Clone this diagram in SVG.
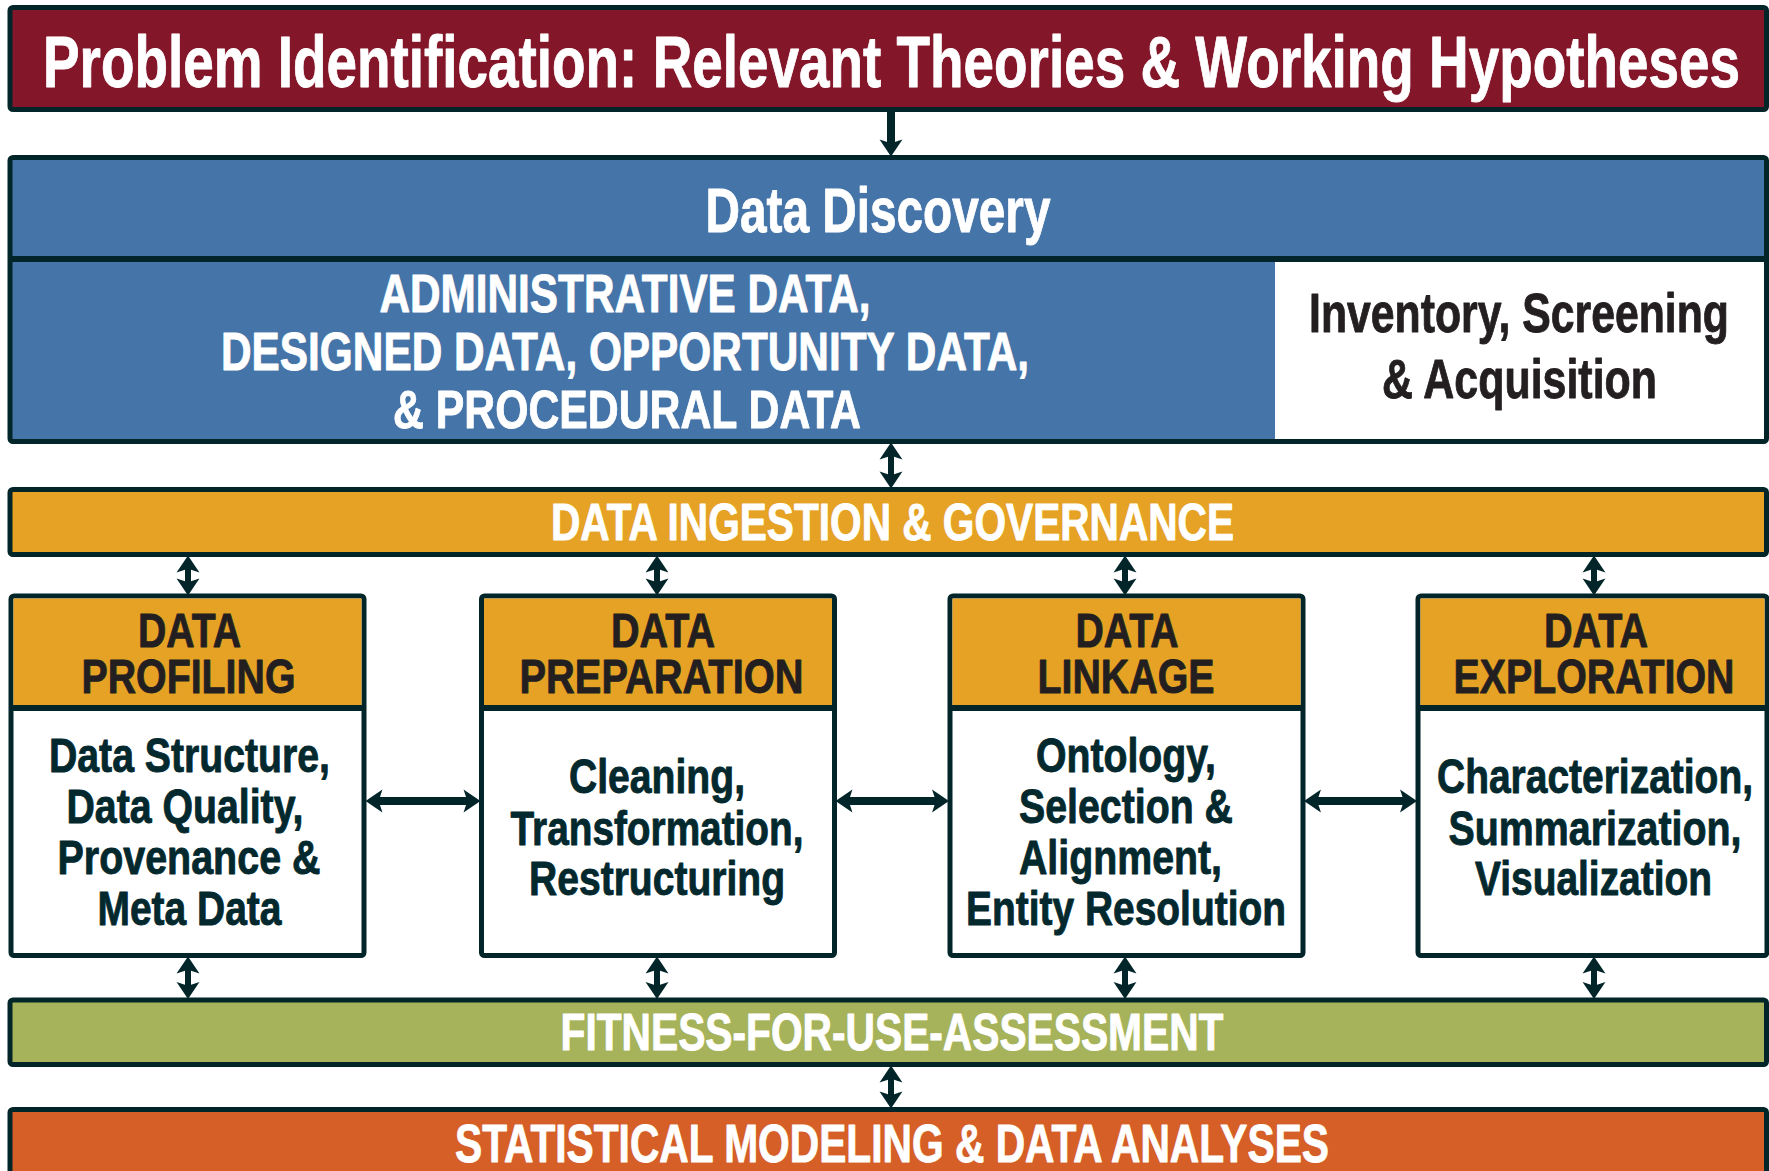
<svg xmlns="http://www.w3.org/2000/svg" width="1769" height="1171" viewBox="0 0 1769 1171">
  <style>
    .frame { stroke: #022529; stroke-width: 5; }
    .t { font-family: "Liberation Sans", Arial, sans-serif; font-weight: bold; text-anchor: middle; stroke-width: 0.9; stroke-linejoin: round; }
    .w { fill: #ffffff; stroke: #ffffff; }
    .k { fill: #231F20; stroke: #231F20; }
    .d { fill: #03282D; stroke: #03282D; }
    .conn { stroke: #022529; fill: none; }
  </style>
  <defs>
    <marker id="head" markerUnits="userSpaceOnUse" markerWidth="20" markerHeight="24" viewBox="0 -11 16 22" refX="5" refY="0" orient="auto-start-reverse">
      <path d="M0,-10.5 L15.5,0 L0,10.5 L3.5,0 Z" fill="#022529"/>
    </marker>
  </defs>

  <rect width="1769" height="1171" fill="#ffffff"/>

  <!-- problem identification banner -->
  <g id="problem-identification">
    <rect class="frame" x="10" y="7.5" width="1756.5" height="102" rx="3" fill="#84162A"/>
    <text class="t w" x="891.5" y="87" font-size="72" textLength="1697" lengthAdjust="spacingAndGlyphs">Problem Identification: Relevant Theories &amp; Working Hypotheses</text>
  </g>

  <!-- data discovery block -->
  <g id="data-discovery">
    <rect x="10" y="157.5" width="1756.5" height="284" fill="#4575A8"/>
    <rect x="1275" y="259" width="1491.5" height="182.5" fill="#ffffff"/>
    <line x1="10" y1="259" x2="1766.5" y2="259" stroke="#022529" stroke-width="6"/>
    <rect class="frame" x="10" y="157.5" width="1756.5" height="284" rx="3" fill="none"/>
    <text class="t w" x="878" y="232" font-size="63" textLength="345" lengthAdjust="spacingAndGlyphs">Data Discovery</text>
    <text class="t w" x="625" y="312" font-size="54" textLength="491" lengthAdjust="spacingAndGlyphs">ADMINISTRATIVE DATA,</text>
    <text class="t w" x="625" y="370" font-size="54" textLength="808" lengthAdjust="spacingAndGlyphs">DESIGNED DATA, OPPORTUNITY DATA,</text>
    <text class="t w" x="627" y="428" font-size="54" textLength="468" lengthAdjust="spacingAndGlyphs">&amp; PROCEDURAL DATA</text>
    <text class="t k" x="1519" y="332" font-size="56" textLength="420" lengthAdjust="spacingAndGlyphs">Inventory, Screening</text>
    <text class="t k" x="1519.5" y="398" font-size="56" textLength="275" lengthAdjust="spacingAndGlyphs">&amp; Acquisition</text>
  </g>

  <!-- ingestion band -->
  <g id="data-ingestion">
    <rect class="frame" x="10" y="489.5" width="1756.5" height="65" rx="3" fill="#E5A224"/>
    <text class="t w" x="892.5" y="540" font-size="51" textLength="683" lengthAdjust="spacingAndGlyphs">DATA INGESTION &amp; GOVERNANCE</text>
  </g>

  <!-- four processing stages -->
  <g id="data-profiling">
    <rect class="frame" x="11" y="596" width="353" height="359.5" rx="3" fill="#ffffff"/>
    <rect x="13.5" y="598.5" width="348" height="109.5" fill="#E5A224"/>
    <line x1="11" y1="708" x2="364" y2="708" stroke="#022529" stroke-width="6"/>
    <text class="t k" x="189.5" y="647" font-size="49" textLength="103" lengthAdjust="spacingAndGlyphs">DATA</text>
    <text class="t k" x="188.5" y="693" font-size="49" textLength="214" lengthAdjust="spacingAndGlyphs">PROFILING</text>
    <text class="t d" x="189.5" y="772" font-size="49" textLength="281" lengthAdjust="spacingAndGlyphs">Data Structure,</text>
    <text class="t d" x="185" y="823" font-size="49" textLength="237" lengthAdjust="spacingAndGlyphs">Data Quality,</text>
    <text class="t d" x="189" y="874" font-size="49" textLength="263" lengthAdjust="spacingAndGlyphs">Provenance &amp;</text>
    <text class="t d" x="189.5" y="925" font-size="49" textLength="184" lengthAdjust="spacingAndGlyphs">Meta Data</text>
  </g>

  <g id="data-preparation">
    <rect class="frame" x="481.5" y="596" width="353" height="359.5" rx="3" fill="#ffffff"/>
    <rect x="484" y="598.5" width="348" height="109.5" fill="#E5A224"/>
    <line x1="481.5" y1="708" x2="834.5" y2="708" stroke="#022529" stroke-width="6"/>
    <text class="t k" x="663" y="647" font-size="49" textLength="104" lengthAdjust="spacingAndGlyphs">DATA</text>
    <text class="t k" x="661.5" y="693" font-size="49" textLength="284" lengthAdjust="spacingAndGlyphs">PREPARATION</text>
    <text class="t d" x="657" y="793" font-size="49" textLength="176" lengthAdjust="spacingAndGlyphs">Cleaning,</text>
    <text class="t d" x="657" y="845" font-size="49" textLength="293" lengthAdjust="spacingAndGlyphs">Transformation,</text>
    <text class="t d" x="657" y="895" font-size="49" textLength="256" lengthAdjust="spacingAndGlyphs">Restructuring</text>
  </g>

  <g id="data-linkage">
    <rect class="frame" x="950" y="596" width="353" height="359.5" rx="3" fill="#ffffff"/>
    <rect x="952.5" y="598.5" width="348" height="109.5" fill="#E5A224"/>
    <line x1="950" y1="708" x2="1303" y2="708" stroke="#022529" stroke-width="6"/>
    <text class="t k" x="1127" y="647" font-size="49" textLength="103" lengthAdjust="spacingAndGlyphs">DATA</text>
    <text class="t k" x="1126" y="693" font-size="49" textLength="177" lengthAdjust="spacingAndGlyphs">LINKAGE</text>
    <text class="t d" x="1126" y="772" font-size="49" textLength="180" lengthAdjust="spacingAndGlyphs">Ontology,</text>
    <text class="t d" x="1126" y="823" font-size="49" textLength="214" lengthAdjust="spacingAndGlyphs">Selection &amp;</text>
    <text class="t d" x="1120.5" y="874" font-size="49" textLength="203" lengthAdjust="spacingAndGlyphs">Alignment,</text>
    <text class="t d" x="1126" y="925" font-size="49" textLength="320" lengthAdjust="spacingAndGlyphs">Entity Resolution</text>
  </g>

  <g id="data-exploration">
    <rect class="frame" x="1418" y="596" width="349" height="359.5" rx="3" fill="#ffffff"/>
    <rect x="1420.5" y="598.5" width="344" height="109.5" fill="#E5A224"/>
    <line x1="1418" y1="708" x2="1767" y2="708" stroke="#022529" stroke-width="6"/>
    <text class="t k" x="1596" y="647" font-size="49" textLength="104" lengthAdjust="spacingAndGlyphs">DATA</text>
    <text class="t k" x="1594" y="693" font-size="49" textLength="281" lengthAdjust="spacingAndGlyphs">EXPLORATION</text>
    <text class="t d" x="1595" y="793" font-size="49" textLength="316" lengthAdjust="spacingAndGlyphs">Characterization,</text>
    <text class="t d" x="1595" y="845" font-size="49" textLength="293" lengthAdjust="spacingAndGlyphs">Summarization,</text>
    <text class="t d" x="1593.5" y="895" font-size="49" textLength="237" lengthAdjust="spacingAndGlyphs">Visualization</text>
  </g>

  <!-- fitness band -->
  <g id="fitness-for-use">
    <rect class="frame" x="10" y="1000" width="1756.5" height="64.5" rx="3" fill="#A6B35A"/>
    <text class="t w" x="892" y="1050" font-size="51" textLength="663" lengthAdjust="spacingAndGlyphs">FITNESS-FOR-USE-ASSESSMENT</text>
  </g>

  <!-- modelling band -->
  <g id="statistical-modeling">
    <rect class="frame" x="10" y="1109.5" width="1756.5" height="120" rx="3" fill="#D55F27"/>
    <text class="t w" x="892" y="1162" font-size="54" textLength="874" lengthAdjust="spacingAndGlyphs">STATISTICAL MODELING &amp; DATA ANALYSES</text>
  </g>

  <!-- connectors -->
  <g id="connectors" class="conn">
    <line x1="891" y1="112" x2="891" y2="145" stroke-width="8" marker-end="url(#head)"/>
    <line x1="891" y1="454" x2="891" y2="477" stroke-width="6" marker-start="url(#head)" marker-end="url(#head)"/>

    <line x1="188" y1="567" x2="188" y2="584" stroke-width="6" marker-start="url(#head)" marker-end="url(#head)"/>
    <line x1="657" y1="567" x2="657" y2="584" stroke-width="6" marker-start="url(#head)" marker-end="url(#head)"/>
    <line x1="1125" y1="567" x2="1125" y2="584" stroke-width="6" marker-start="url(#head)" marker-end="url(#head)"/>
    <line x1="1594" y1="567" x2="1594" y2="584" stroke-width="6" marker-start="url(#head)" marker-end="url(#head)"/>

    <line x1="377" y1="801" x2="469" y2="801" stroke-width="8" marker-start="url(#head)" marker-end="url(#head)"/>
    <line x1="847" y1="801" x2="937.5" y2="801" stroke-width="8" marker-start="url(#head)" marker-end="url(#head)"/>
    <line x1="1315.5" y1="801" x2="1405.5" y2="801" stroke-width="8" marker-start="url(#head)" marker-end="url(#head)"/>

    <line x1="188" y1="968" x2="188" y2="987.5" stroke-width="6" marker-start="url(#head)" marker-end="url(#head)"/>
    <line x1="657" y1="968" x2="657" y2="987.5" stroke-width="6" marker-start="url(#head)" marker-end="url(#head)"/>
    <line x1="1125" y1="968" x2="1125" y2="987.5" stroke-width="6" marker-start="url(#head)" marker-end="url(#head)"/>
    <line x1="1594" y1="968" x2="1594" y2="987.5" stroke-width="6" marker-start="url(#head)" marker-end="url(#head)"/>

    <line x1="891" y1="1077" x2="891" y2="1097" stroke-width="6" marker-start="url(#head)" marker-end="url(#head)"/>
  </g>
</svg>
